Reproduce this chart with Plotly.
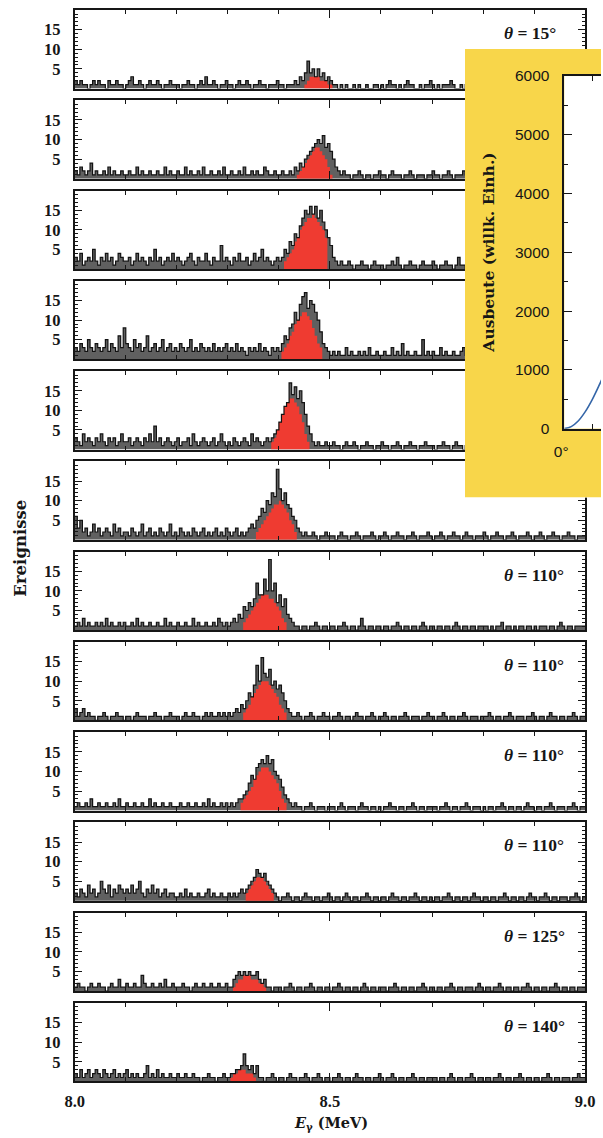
import plotly.graph_objects as go

# The photographed page keeps the browser's 8 px body margin and is scaled
# from 619x1154 down to the 603x1138 window; window positions below are
# mapped into figure coordinates through fx / fy.  The figure is 8 px wider
# than the body so that it reaches the right edge of the window.
PAGE_W, PAGE_H, BM = 603, 1138, 8
W, H = PAGE_W + BM, PAGE_H
KX, KY = (PAGE_W + 2 * BM) / PAGE_W, (PAGE_H + 2 * BM) / PAGE_H
E_LO, BIN_W = 8.0, 0.005

angle_labels = ["15°", None, None, None, None, None, "110°", "110°", "110°", "110°", "125°", "140°"]

counts_p1 = [2,1,2,1,1,0,1,2,1,2, 1,1,0,2,1,1,2,1,1,0,
             1,2,3,1,1,2,1,0,1,2, 1,1,2,1,0,1,1,2,1,1,
             1,0,1,1,2,1,1,0,1,2, 1,3,1,1,2,1,0,1,1,2,
             1,1,0,1,2,1,1,2,1,0, 1,1,2,1,1,0,1,1,1,2,
             1,1,0,1,1,1,2,1,3,2, 4,7,4,5,3,5,3,4,2,3,
             2,1,1,0,1,0,1,0,0,1, 0,1,0,0,1,0,0,1,1,0,
             1,0,1,2,1,1,0,1,0,1, 2,1,1,0,0,1,0,1,1,2,
             1,0,1,0,1,1,1,2,1,0, 0,1,0,1,1,0,1,0,1,1,
             0,1,1,0,1,1,0,1,0,1, 0,1,1,0,1,0,1,1,0,1,
             1,1,0,1,0,1,1,0,1,1, 0,1,0,1,1,0,1,0,1,1]
counts_p2 = [2,1,3,2,1,2,4,1,2,1, 1,2,1,3,1,2,1,1,2,1,
             1,2,1,1,3,1,2,1,1,2, 1,1,2,1,1,3,1,2,1,1,
             2,1,1,3,1,2,1,1,2,1, 3,1,1,2,1,1,2,1,3,1,
             1,2,1,1,2,1,3,1,1,2, 1,2,1,1,3,2,1,1,2,1,
             1,2,1,1,2,1,3,2,4,3, 5,6,7,8,9,10,9,11,8,9,
             7,5,3,2,1,2,1,1,0,1, 1,2,1,0,1,1,0,1,1,2,
             1,1,0,1,2,1,1,1,0,1, 1,2,1,0,1,1,1,0,1,1,
             2,1,1,0,1,1,2,1,0,1, 1,1,2,1,0,1,1,1,0,1,
             1,1,2,1,0,1,1,0,1,1, 2,1,1,0,1,1,1,2,1,0,
             1,1,0,1,1,2,1,1,0,1, 1,0,1,2,1,1,0,1,1,1]
counts_p3 = [3,2,4,1,2,3,2,5,2,1, 3,2,4,2,3,1,2,4,3,2,
             2,3,1,2,4,2,3,2,1,3, 2,5,2,3,1,2,3,2,4,2,
             3,2,1,2,3,4,2,1,3,2, 2,4,2,1,3,2,2,6,2,3,
             2,1,3,2,4,2,2,3,1,2, 4,2,3,5,2,3,2,1,2,3,
             2,3,5,4,7,6,9,8,11,13, 15,14,16,14,16,13,15,12,10,8,
             6,3,2,1,2,1,1,2,1,0, 1,1,2,1,1,0,1,2,1,1,
             1,0,1,1,2,1,3,1,0,1, 1,2,1,1,0,1,2,1,1,1,
             2,1,0,1,1,2,1,1,0,1, 3,1,1,0,1,2,1,1,0,1,
             1,1,2,0,1,1,1,2,1,0, 1,1,2,1,1,0,1,1,2,1,
             1,0,1,2,1,1,0,1,1,2, 1,1,0,1,1,2,1,3,1,1]
counts_p4 = [3,2,4,3,2,5,3,2,4,3, 2,3,5,2,4,3,2,6,3,8,
             4,3,2,5,3,4,2,3,6,2, 3,4,2,3,5,2,3,4,2,3,
             2,4,3,2,3,5,2,3,2,4, 3,2,3,2,4,2,3,2,3,4,
             2,3,2,4,2,3,2,1,3,2, 3,2,4,2,3,2,1,3,2,3,
             2,4,6,5,8,9,12,10,14,16, 17,13,15,14,12,10,7,4,3,2,
             1,2,1,2,1,1,3,1,2,1, 1,2,1,2,1,3,1,1,2,1,
             1,2,1,1,3,1,2,1,4,1, 2,1,1,2,1,1,5,1,2,1,
             2,1,1,3,1,2,1,1,2,1, 1,2,3,1,1,2,1,1,2,1,
             1,2,1,1,3,1,1,2,1,2, 1,1,2,1,4,1,2,1,1,2,
             1,1,2,1,1,2,1,3,1,1, 2,1,1,2,1,1,3,1,2,2]
counts_p5 = [3,2,1,4,2,3,2,1,3,2, 4,2,1,3,2,3,1,2,4,2,
             2,3,1,2,3,2,1,3,2,4, 2,6,2,3,1,2,3,2,1,2,
             3,1,2,2,3,1,4,2,1,2, 3,2,1,2,3,1,2,4,2,1,
             2,1,3,2,1,2,3,2,1,4, 2,3,2,1,2,3,2,3,4,5,
             7,9,11,12,17,14,16,13,15,12, 9,6,4,2,1,2,1,1,2,1,
             1,2,1,1,0,1,2,1,1,2, 1,0,1,1,2,1,1,0,1,1,
             2,1,1,0,1,1,2,1,0,1, 1,2,1,1,0,1,1,2,1,1,
             1,0,1,1,2,1,1,0,1,2, 1,1,0,1,1,2,1,0,1,1,
             1,2,1,0,1,1,1,2,1,0, 1,1,2,1,1,0,1,1,2,1,
             0,1,1,2,1,1,0,1,1,2, 1,0,1,1,2,1,1,0,1,1]
counts_p6 = [6,3,5,2,3,1,2,4,2,3, 1,2,3,2,1,4,2,3,1,2,
             2,1,3,2,1,2,4,1,2,3, 1,2,1,3,2,1,2,4,1,2,
             1,3,2,1,2,1,3,2,1,2, 3,1,2,1,2,3,1,2,1,3,
             2,1,2,3,1,2,1,2,3,4, 3,5,6,8,7,10,9,12,11,18,
             13,10,12,9,8,6,5,3,2,1, 2,1,1,2,1,0,1,1,2,1,
             1,1,0,1,2,1,1,0,1,1, 2,1,0,1,1,1,2,1,0,1,
             1,2,1,0,1,1,2,1,1,0, 1,1,2,1,0,1,1,1,2,1,
             0,1,1,2,1,0,1,1,2,1, 1,0,1,2,1,1,0,1,1,1,
             2,1,0,1,1,2,1,1,0,1, 1,2,1,0,1,1,1,2,1,0,
             1,1,2,1,0,1,1,2,1,1, 0,1,1,2,1,1,0,1,1,1]
counts_p7 = [1,2,1,3,1,2,1,1,2,1, 2,1,3,1,2,1,1,2,1,2,
             1,1,2,1,3,1,2,1,1,2, 1,1,2,1,1,3,1,2,1,1,
             2,1,1,2,1,1,3,1,2,1, 1,2,1,1,2,1,3,2,1,2,
             1,2,3,2,4,3,6,5,7,6, 8,12,9,9,13,10,18,10,12,7,
             9,6,8,4,3,2,1,1,0,1, 1,0,1,1,2,1,0,1,1,0,
             1,1,0,1,1,2,1,0,1,1, 0,1,3,1,0,1,1,0,1,1,
             0,1,1,0,1,1,2,1,0,1, 1,0,1,1,0,1,2,1,0,1,
             1,0,1,1,0,1,1,0,1,2, 1,0,1,1,0,1,1,0,1,1,
             1,1,0,1,0,1,1,2,0,1, 1,0,1,0,1,1,0,1,1,0,
             1,0,1,1,1,0,1,1,0,1, 2,1,0,1,1,0,1,1,1,1]
counts_p8 = [3,1,2,3,1,2,1,1,0,1, 1,2,1,0,1,1,2,1,1,0,
             1,1,0,1,2,1,1,1,0,1, 1,2,1,1,0,1,1,2,1,1,
             1,0,1,2,1,1,2,1,1,0, 1,2,1,2,1,1,2,1,2,1,
             2,1,2,3,2,4,3,5,7,6, 9,14,10,16,12,11,13,9,10,8,
             9,7,5,3,2,1,1,2,1,0, 1,1,2,1,0,1,1,2,1,1,
             0,1,1,2,1,0,1,1,0,1, 2,1,1,0,1,1,2,1,0,1,
             1,2,1,0,1,1,0,1,1,2, 1,0,1,1,1,0,1,1,2,1,
             1,0,1,1,2,1,0,1,1,0, 1,1,2,1,0,1,1,1,0,1,
             1,1,2,1,0,1,1,0,1,1, 2,1,0,1,1,1,0,1,1,2,
             1,0,1,1,0,1,2,1,1,0, 1,1,0,1,1,2,1,0,1,1]
counts_p9 = [1,2,1,1,2,1,3,1,1,2, 1,1,2,1,1,2,1,3,1,1,
             2,1,1,2,1,1,2,1,1,3, 1,2,1,1,2,1,1,2,1,1,
             1,2,1,1,2,1,1,2,1,1, 2,1,3,1,2,1,1,2,1,2,
             1,2,1,2,3,3,4,5,7,9, 8,11,12,13,12,14,12,13,10,9,
             8,6,4,3,2,1,2,1,1,0, 1,1,2,1,0,1,1,1,0,1,
             1,1,0,1,2,1,0,1,1,1, 0,1,2,1,1,0,1,1,0,1,
             0,1,1,2,1,1,0,1,1,0, 1,1,2,1,0,1,1,0,1,1,
             1,1,0,1,1,2,1,0,1,1, 0,1,1,2,1,0,1,1,1,0,
             1,0,1,1,0,1,1,2,1,0, 1,1,0,1,1,0,1,2,1,1,
             0,1,1,0,1,1,2,1,0,1, 1,1,0,1,1,2,1,0,1,1]
counts_p10 = [2,1,3,2,1,4,2,3,1,2, 5,3,2,4,1,3,2,4,3,2,
              3,2,4,2,3,5,2,1,3,2, 4,2,3,1,2,3,1,2,2,1,
              1,2,1,3,1,2,1,1,2,1, 1,2,3,1,2,1,1,2,1,1,
              2,1,2,1,2,3,2,3,4,5, 6,8,7,6,7,5,4,3,2,1,
              0,1,1,2,1,0,1,1,0,1, 2,1,1,0,1,1,0,1,1,2,
              1,0,1,1,0,1,2,1,0,1, 1,0,1,1,2,1,0,1,1,0,
              1,1,0,1,2,1,1,0,1,1, 0,1,1,2,1,0,1,1,0,1,
              0,1,1,0,1,1,2,1,0,1, 1,0,1,1,0,1,2,1,1,0,
              1,1,0,1,1,0,1,1,2,1, 0,1,1,0,1,1,0,1,2,1,
              1,0,1,1,2,1,0,1,1,0, 1,1,1,0,1,1,2,1,0,1]
counts_p11 = [1,2,1,1,0,1,2,1,1,2, 1,1,0,1,2,1,1,3,1,1,
              2,1,1,2,1,1,4,2,1,1, 2,1,1,2,1,3,1,1,2,1,
              1,1,2,1,1,0,1,2,1,1, 2,1,1,2,1,1,2,1,1,2,
              1,1,3,4,5,4,5,4,5,4, 4,5,3,2,3,1,1,0,1,1,
              1,0,1,1,2,1,0,1,1,0, 1,1,2,1,0,1,1,0,1,1,
              0,1,1,2,1,0,1,1,0,1, 1,0,1,2,1,0,1,1,0,1,
              1,1,0,1,1,2,1,0,1,1, 0,1,1,0,1,1,2,1,0,1,
              1,0,1,1,0,1,1,2,1,0, 1,1,0,1,1,1,0,1,2,1,
              0,1,1,0,1,1,2,1,0,1, 1,0,1,1,0,1,1,2,1,0,
              1,1,0,1,1,0,1,1,2,1, 0,1,1,0,1,1,0,1,1,1]
counts_p12 = [2,1,3,1,2,3,1,2,3,2, 1,3,2,1,2,3,1,2,1,2,
              3,1,2,1,2,1,1,2,4,1, 2,1,3,1,2,1,1,2,1,1,
              2,1,1,2,1,1,2,1,1,0, 1,1,2,1,1,0,1,1,2,1,
              1,2,2,3,3,4,7,4,3,4, 2,4,1,1,0,1,1,2,1,0,
              1,1,0,1,2,1,1,0,1,1, 2,1,0,1,1,2,1,0,1,1,
              0,1,1,2,1,0,1,1,0,1, 2,1,1,0,1,1,0,1,1,2,
              1,0,1,1,2,1,0,1,1,0, 1,1,2,1,0,1,1,0,1,1,
              1,1,0,1,1,0,1,2,1,0, 1,1,0,1,1,2,1,0,1,1,
              0,1,1,0,1,1,2,1,0,1, 1,0,1,1,2,1,0,1,1,0,
              1,1,0,1,1,2,1,0,1,1, 0,1,1,1,0,1,1,2,1,1]

spectra = [counts_p1, counts_p2, counts_p3, counts_p4, counts_p5, counts_p6,
           counts_p7, counts_p8, counts_p9, counts_p10, counts_p11, counts_p12]

# red (peak) contents: start energy of first bin and bin contents
peak_starts = [8.450, 8.435, 8.410, 8.405, 8.385, 8.355, 8.330, 8.330, 8.325, 8.335, 8.310, 8.305]
peak_p1 = [1,2,3,3,3,3,2,2,2,1,1]
peak_p2 = [1,2,3,4,5,6,7,8,8,7,6,5,3,1]
peak_p3 = [2,3,4,5,7,8,10,11,12,13,13,14,13,12,11,10,8]
peak_p4 = [2,3,4,6,7,9,10,11,12,12,11,10,8,6,4,3]
peak_p5 = [2,3,5,7,9,11,12,13,13,12,11,9,7,4,2]
peak_p6 = [2,3,4,5,6,7,8,9,9,10,9,8,7,5,4,2]
peak_p7 = [2,3,4,5,6,7,8,9,9,9,8,8,7,6,5,3,2]
peak_p8 = [2,3,4,6,7,8,9,10,10,10,9,8,7,6,4,3,2]
peak_p9 = [2,3,4,5,6,8,9,10,11,11,11,10,9,8,7,5,3,2]
peak_p10 = [2,3,4,5,6,6,6,5,4,3,2]
peak_p11 = [1,2,3,3,4,4,4,3,3,3,2,2,1]
peak_p12 = [1,2,2,3,3,3,2,2,2,1]
peaks = [peak_p1, peak_p2, peak_p3, peak_p4, peak_p5, peak_p6,
         peak_p7, peak_p8, peak_p9, peak_p10, peak_p11, peak_p12]

main_x_ticks = [8.0, 8.5, 9.0]
main_y_ticks = [5, 10, 15]

inset_angle = [0, 5, 10, 15, 20, 25, 30]
inset_yield = [0, 35, 130, 285, 490, 735, 1000]
inset_y_ticks = [0, 1000, 2000, 3000, 4000, 5000, 6000]

INK = "#161616"
HIST_FILL = "rgba(35,35,35,0.72)"
RED = "#EF3B31"
YELLOW = "#F8D64A"
BLUE = "#3566A8"
SERIF = "Liberation Serif"
SERIF_B = "DejaVu Serif"
SANS = "Liberation Sans"

# layout in window pixels
PX_L, PX_R = 73, 587
TOP0, PITCH, PH = 9, 90.36, 78.5


def fx(p):
    return (p * KX - BM) / W


def fy(p):
    return 1 - (p * KY - BM) / H


fig = go.Figure()
layout = {}
annotations = []

for k in range(12):
    n = k + 1
    sx = "" if n == 1 else str(n)
    counts = spectra[k]
    edges = [E_LO + BIN_W * i for i in range(len(counts) + 1)]
    pv = peaks[k]
    pedges = [peak_starts[k] + BIN_W * i for i in range(len(pv) + 1)]
    fig.add_trace(go.Scatter(x=edges, y=counts + [counts[-1]], mode="lines",
                             line=dict(width=0, shape="hv"), fill="tozeroy",
                             fillcolor=HIST_FILL, xaxis="x" + sx, yaxis="y" + sx,
                             hoverinfo="skip", showlegend=False))
    fig.add_trace(go.Scatter(x=pedges, y=pv + [pv[-1]], mode="lines",
                             line=dict(width=0, shape="hv"), fill="tozeroy",
                             fillcolor=RED, xaxis="x" + sx, yaxis="y" + sx,
                             hoverinfo="skip", showlegend=False))
    fig.add_trace(go.Scatter(x=edges, y=counts + [counts[-1]], mode="lines",
                             line=dict(color="#121212", width=1.2, shape="hv"),
                             xaxis="x" + sx, yaxis="y" + sx,
                             hoverinfo="skip", showlegend=False))
    top = TOP0 + PITCH * k
    bot = top + PH
    layout["xaxis" + sx] = dict(
        domain=[fx(PX_L), fx(PX_R)], range=[8.0, 9.0], anchor="y" + sx,
        showline=True, linecolor=INK, linewidth=2, mirror="ticks",
        ticks="inside", tickvals=main_x_ticks, ticklen=8, tickwidth=1.2,
        tickcolor=INK,
        minor=dict(tickmode="linear", tick0=8.0, dtick=0.1, ticks="inside",
                   ticklen=4, tickwidth=1.1, tickcolor=INK),
        showticklabels=(n == 12), tickformat=".1f",
        tickfont=dict(family=SERIF, size=16.5, color=INK, weight="bold"),
        ticklabelstandoff=4, ticklabeloverflow="allow",
        showgrid=False, zeroline=False, fixedrange=True)
    layout["yaxis" + sx] = dict(
        domain=[fy(bot), fy(top)], range=[0, 20], anchor="x" + sx,
        showline=True, linecolor=INK, linewidth=2, mirror="ticks",
        ticks="inside", tickvals=main_y_ticks, ticklen=7, tickwidth=1.2,
        tickcolor=INK,
        minor=dict(tickmode="linear", tick0=0, dtick=1, ticks="inside",
                   ticklen=3, tickwidth=1, tickcolor=INK),
        tickfont=dict(family=SERIF, size=16.5, color=INK, weight="bold"),
        ticklabelstandoff=9,
        showgrid=False, zeroline=False, fixedrange=True)
    if angle_labels[k]:
        annotations.append(dict(
            x=fx(503), y=fy(top + 23), xref="paper", yref="paper",
            xanchor="left", yanchor="middle", showarrow=False,
            text="<b><i>θ</i> = " + angle_labels[k] + "</b>",
            font=dict(family=SERIF, size=17.5, color=INK)))

# yellow inset background (subplot 13)
fig.add_trace(go.Scatter(x=[0, 1, 1, 0, 0], y=[0, 0, 1, 1, 0], mode="lines",
                         fill="toself", fillcolor=YELLOW, line=dict(width=0),
                         xaxis="x13", yaxis="y13", hoverinfo="skip",
                         showlegend=False))
layout["xaxis13"] = dict(domain=[fx(466), 1], range=[0, 1], anchor="y13",
                         visible=False, fixedrange=True)
layout["yaxis13"] = dict(domain=[fy(497), fy(48)], range=[0, 1], anchor="x13",
                         visible=False, fixedrange=True)

# inset plot (subplot 14); its visible part ends at the figure edge
INSET_L = 566
INSET_DEG_PER_PX = 26.4 / 37.0
inset_right_px = (W + BM) / KX
inset_x_max = (inset_right_px - INSET_L) * INSET_DEG_PER_PX
fig.add_trace(go.Scatter(x=inset_angle, y=inset_yield, mode="lines",
                         line=dict(color=BLUE, width=1.6, shape="spline"),
                         xaxis="x14", yaxis="y14", hoverinfo="skip",
                         showlegend=False))
layout["xaxis14"] = dict(
    domain=[fx(INSET_L), 1], range=[0, inset_x_max], anchor="y14",
    showline=True, linecolor=INK, linewidth=1.5, mirror="ticks",
    ticks="inside", tickvals=[0], ticktext=["0°"], ticklen=5,
    tickcolor=INK, tickfont=dict(family=SANS, size=15.5, color=INK),
    minor=dict(tickmode="array", tickvals=[20], ticks="inside", ticklen=5,
               tickcolor=INK),
    ticklabelstandoff=8, ticklabelshift=-3, ticklabeloverflow="allow",
    showgrid=False, zeroline=False, fixedrange=True)
layout["yaxis14"] = dict(
    domain=[fy(428), fy(75)], range=[0, 6000], anchor="x14",
    showline=True, linecolor=INK, linewidth=1.5, mirror=False,
    ticks="inside", tickvals=inset_y_ticks, ticklen=8, tickcolor=INK,
    minor=dict(tickmode="linear", tick0=0, dtick=500, ticks="inside",
               ticklen=4, tickcolor=INK),
    tickfont=dict(family=SANS, size=15.5, color=INK),
    ticklabelstandoff=10, ticklabeloverflow="allow",
    showgrid=False, zeroline=False, fixedrange=True)

annotations.append(dict(
    x=fx(490), y=fy(252), xref="paper", yref="paper", textangle=-90,
    xanchor="center", yanchor="middle", showarrow=False,
    text="<b>Ausbeute (willk. Einh.)</b>",
    font=dict(family=SERIF_B, size=15.5, color=INK)))
annotations.append(dict(
    x=fx(18), y=fy(548), xref="paper", yref="paper", textangle=-90,
    xanchor="center", yanchor="middle", showarrow=False,
    text="<b>Ereignisse</b>",
    font=dict(family=SERIF_B, size=16.5, color=INK)))
annotations.append(dict(
    x=fx(331), y=fy(1124), xref="paper", yref="paper",
    xanchor="center", yanchor="middle", showarrow=False,
    text="<b><i>E</i><sub>γ</sub> (MeV)</b>",
    font=dict(family=SERIF_B, size=14.5, color=INK)))

fig.update_layout(
    width=W, height=H, margin=dict(l=0, r=0, t=0, b=0),
    paper_bgcolor="white", plot_bgcolor="white",
    showlegend=False, annotations=annotations, **layout)

fig.write_html("out.html")
